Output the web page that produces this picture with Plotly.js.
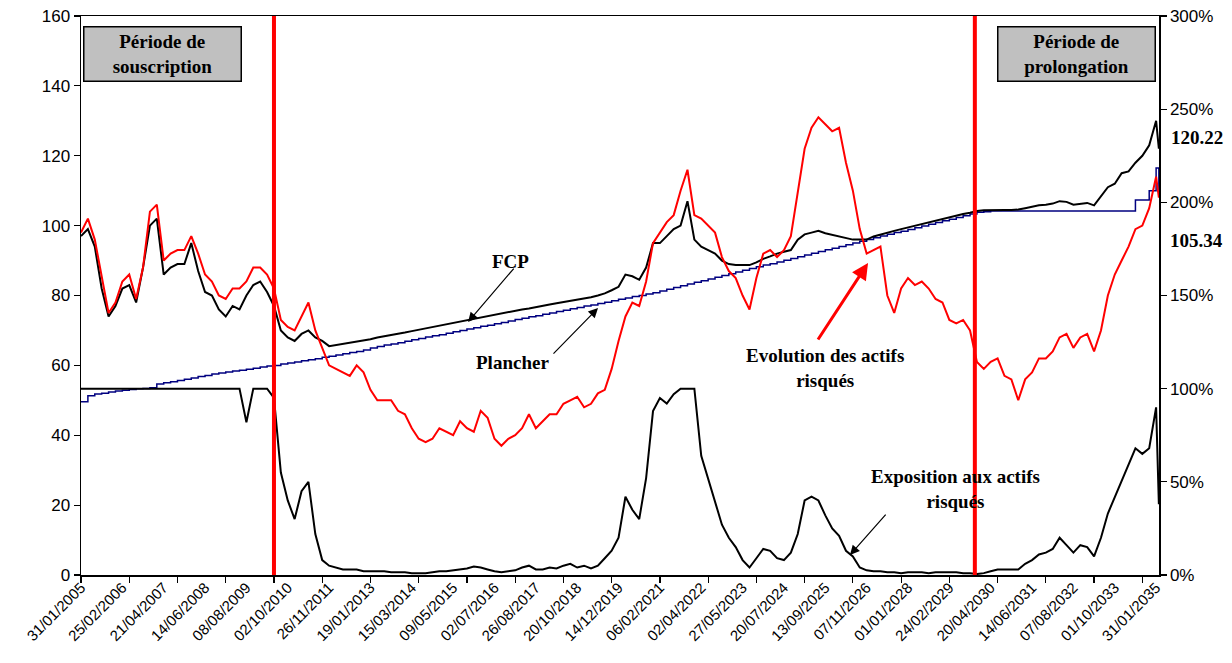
<!DOCTYPE html>
<html>
<head>
<meta charset="utf-8">
<script src="https://cdn.plot.ly/plotly-3.0.1.min.js"></script>
<style>html,body{margin:0;padding:0;background:#fff;}#chart{width:1232px;height:663px;}</style>
</head>
<body>
<div id="chart"></div>
<script>
// Category axis: labels every 300 observations, tick marks every 350 observations
const tickDates = ['31/01/2005','25/02/2006','21/04/2007','14/06/2008','08/08/2009','02/10/2010','26/11/2011','19/01/2013','15/03/2014','09/05/2015','02/07/2016','26/08/2017','20/10/2018','14/12/2019','06/02/2021','02/04/2022','27/05/2023','20/07/2024','13/09/2025','07/11/2026','01/01/2028','24/02/2029','20/04/2030','14/06/2031','07/08/2032','01/10/2033','31/01/2035'];
const labelEvery = 300;
const tickEvery = 350;
const lastObs = 7821;
const sampleStep = 50;
const finalObs = 7820;
const periodBounds = [1400, 6485]; // souscription end / prolongation start (observation index)

// Evolution des actifs risqués (left axis)
const risky = [98,102,96,85,75,78,84,86,79,88,104,106,90,92,93,93,97,92,86,84,80,79,82,82,84,88,88,86,82,73,71,70,74,78,70,65,60,59,58,57,60,58,
  53,50,50,50,47,46,42,39,38,39,42,41,40,44,42,41,47,45,39,37,39,40,42,46,42,44,46,46,49,50,51,48,49,52,53,59,67,74,78,77,84,
  95,98,101,103,110,116,103,102,100,98,91,87,85,80,76,85,92,93,91,93,97,110,122,128,131,129,127,128,118,110,99,92,93,94,80,75,82,85,83,84,82,
  79,78,73,72,73,70,61,59,61,62,57,56,50,56,58,62,62,64,68,69,65,68,69,64,70,80,86,90,94,99,100,105,114,
  108];
// FCP (left axis)
const fcp = [97,99,94,82,74,77,82,83,78,88,100,102,86,88,89,89,95,87,81,80,76,74,77,76,80,83,84,81,77,70,68,67,69,70,68,67,65.5,65.8,66.2,66.5,66.9,67.2,
  67.5,68,68.3,68.7,69,69.4,69.8,70.2,70.6,71,71.4,71.8,72.2,72.5,72.9,73.3,73.7,74.1,74.4,74.8,75.2,75.6,76,76.3,76.6,77,77.4,77.8,78.1,78.4,78.8,79.2,79.5,80,80.6,81.5,82.5,86,85.5,84.5,88,
  95,95,97,99,100,107,96,94,93,92,90,89,88.7,88.7,88.7,89.5,90.5,91.2,92,92.5,93,96,97.5,98,98.5,97.8,97.3,97,96.5,96,96,96,96.9,97.5,98,98.5,99,99.5,100,100.5,100.8,
  101.3,101.8,102.3,102.8,103.3,103.7,104.2,104.4,104.5,104.5,104.5,104.5,104.6,105,105.5,105.8,106,106.3,107,106.8,106,106.3,106.5,105.8,108.5,111,112,115,115.5,118,120,123,130,
  122];
// Plancher (left axis)
const plancher = [49.6,51.3,51.8,52.0,52.4,52.7,52.9,53.1,53.3,53.4,53.6,54.7,55.0,55.3,55.7,56.0,56.4,56.8,57.1,57.5,57.8,58.1,58.4,58.6,58.9,59.2,59.5,59.8,60.0,60.4,60.7,61.0,61.3,61.6,61.9,62.3,62.6,63.0,63.3,63.7,64.0,64.4,
  65.0,65.4,65.8,66.1,66.5,66.9,67.3,67.7,68.1,68.5,68.8,69.2,69.6,70.0,70.4,70.8,71.2,71.5,71.9,72.3,72.7,73.1,73.5,73.9,74.2,74.6,75.0,75.4,75.8,76.2,76.6,77.0,77.3,77.7,78.1,78.5,78.9,79.3,79.7,80.0,80.4,
  80.8,81.3,81.8,82.3,82.8,83.3,83.8,84.2,84.7,85.2,85.7,86.2,86.7,87.2,87.7,88.2,88.7,89.1,89.6,90.1,90.6,91.1,91.6,92.1,92.6,93.1,93.5,94.0,94.5,95.0,95.5,96.0,96.5,97.0,97.5,98.0,98.4,98.9,99.4,99.9,100.4,
  100.9,101.4,101.8,102.3,102.8,103.3,103.8,104.0,104.2,104.2,104.2,104.2,104.2,104.2,104.2,104.2,104.2,104.2,104.2,104.2,104.2,104.2,104.2,104.2,104.2,104.2,104.2,104.2,104.2,107.3,107.3,110,116.5,
  110];
// Exposition aux actifs risqués (right axis, %)
const exposition = [100,100,100,100,100,100,100,100,100,100,100,100,100,100,100,100,100,100,100,100,100,100,100,100,82,100,100,100,95,55,40,30,45,50,22,8,5,4,3,3,3,2,
  2,2,2,1.5,1.5,1.5,1,1,1,1.5,2,2,2.5,3,3.5,4.5,4,3,2,1.5,2,2.5,4,5,3,3,4,3.5,5,6,4,5,3.5,5,9,13,20,42,35,30,52,
  88,95,92,97,100,100,100,64,52,40,27,20,15,8,4,9,14,13,9,8,12,22,40,42,40,32,25,21,13,10,4,2.5,2,2,1.5,1.5,1,1.5,1.5,1.5,1,
  1.5,1.5,1.5,1.5,1,1,0.5,1,2,3,3,3,3,6,8,11,12,14,20,16,12,16,15,10,20,33,42,50,60,68,65,68,90,
  38];

const obs = risky.map((_, i) => i < risky.length - 1 ? i * sampleStep : finalObs);
const labelPos = tickDates.map((_, i) => i * labelEvery);
const tickPos = [];
for (let v = 0; v <= lastObs; v += tickEvery) tickPos.push(v);

const serif = 'Liberation Serif, Times New Roman, serif';
const sans = 'Liberation Sans, Arial, sans-serif';
const noteFont = {family: serif, size: 19, color: '#000'};

const traces = [
  {x: obs, y: exposition, yaxis: 'y2', type: 'scatter', mode: 'lines', line: {color: '#000', width: 2}, hoverinfo: 'skip', name: 'Exposition'},
  {x: obs, y: plancher, type: 'scatter', mode: 'lines', line: {color: '#000080', width: 1.5, shape: 'hv'}, hoverinfo: 'skip', name: 'Plancher'},
  {x: obs, y: fcp, type: 'scatter', mode: 'lines', line: {color: '#000', width: 2}, hoverinfo: 'skip', name: 'FCP'},
  {x: obs, y: risky, type: 'scatter', mode: 'lines', line: {color: '#ff0000', width: 2}, hoverinfo: 'skip', name: 'Actifs risqués'},
  {x: [], y: [], xaxis: 'x2', type: 'scatter', mode: 'lines', hoverinfo: 'skip', showlegend: false}
];

const boxStyle = {bgcolor: '#c0c0c0', bordercolor: '#000', borderwidth: 1.5, borderpad: 1, width: 154, height: 51, showarrow: false, xanchor: 'center', yanchor: 'middle', align: 'center', font: noteFont};

const annotations = [
  Object.assign({x: 588, y: 149.1, xref: 'x', yref: 'y', text: '<b>Période de<br>souscription</b>'}, boxStyle),
  Object.assign({x: 7226, y: 149.1, xref: 'x', yref: 'y', text: '<b>Période de<br>prolongation</b>'}, boxStyle),
  {x: 3113, y: 89.6, xref: 'x', yref: 'y', text: '<b>FCP</b>', showarrow: false, xanchor: 'center', yanchor: 'middle', font: noteFont},
  {x: 3134, y: 60.7, xref: 'x', yref: 'y', text: '<b>Plancher</b>', showarrow: false, xanchor: 'center', yanchor: 'middle', font: noteFont},
  {x: 5398, y: 59.2, xref: 'x', yref: 'y', text: '<b>Evolution des actifs<br>risqués</b>', showarrow: false, xanchor: 'center', yanchor: 'middle', font: noteFont},
  {x: 6341, y: 24.5, xref: 'x', yref: 'y', text: '<b>Exposition aux actifs<br>risqués</b>', showarrow: false, xanchor: 'center', yanchor: 'middle', font: noteFont},
  {x: 1.035, y: 0.782, xref: 'paper', yref: 'paper', text: '<b>120.22</b>', showarrow: false, xanchor: 'center', yanchor: 'middle', font: noteFont},
  {x: 1.035, y: 0.599, xref: 'paper', yref: 'paper', text: '<b>105.34</b>', showarrow: false, xanchor: 'center', yanchor: 'middle', font: noteFont},
  // arrows
  {x: 2808, y: 72.4, xref: 'x', yref: 'y', text: '', showarrow: true, ax: 47, ay: -55, arrowhead: 2, arrowsize: 1.6, arrowwidth: 1.2, arrowcolor: '#000'},
  {x: 3751, y: 76.4, xref: 'x', yref: 'y', text: '', showarrow: true, ax: -46, ay: 47, arrowhead: 2, arrowsize: 1.6, arrowwidth: 1.2, arrowcolor: '#000'},
  {x: 5710, y: 89.3, xref: 'x', yref: 'y', text: '', showarrow: true, ax: -51, ay: 78, arrowhead: 2, arrowsize: 1.1, arrowwidth: 3, arrowcolor: '#ff0000'},
  {x: 5579, y: 10.7, xref: 'x', yref: 'y2', text: '', showarrow: true, ax: 37, ay: -42, arrowhead: 2, arrowsize: 1.6, arrowwidth: 1.2, arrowcolor: '#000'}
];

const shapes = periodBounds.map(b => ({type: 'line', xref: 'x', yref: 'paper', x0: b, x1: b, y0: 0, y1: 1, line: {color: '#ff0000', width: 4}, layer: 'above'}));

const layout = {
  width: 1232, height: 663,
  margin: {l: 81, r: 73, t: 16, b: 88},
  paper_bgcolor: '#fff', plot_bgcolor: '#fff',
  showlegend: false,
  font: {family: sans, size: 17, color: '#000'},
  xaxis: {range: [0, lastObs], tickmode: 'array', tickvals: tickPos, ticks: 'outside', ticklen: 6, tickwidth: 1.2, tickcolor: '#000', showticklabels: false, showgrid: false, zeroline: false, showline: true, mirror: true, linecolor: '#000', linewidth: 1.5},
  xaxis2: {overlaying: 'x', side: 'bottom', range: [0, lastObs], tickmode: 'array', tickvals: labelPos, ticktext: tickDates, ticks: '', tickangle: -45, showline: false, showgrid: false, zeroline: false, tickfont: {family: sans, size: 15, color: '#000'}},
  yaxis: {range: [0, 160], tickmode: 'linear', tick0: 0, dtick: 20, ticks: 'outside', ticklen: 6, tickwidth: 1.2, tickcolor: '#000', showline: true, linecolor: '#000', linewidth: 1.5, showgrid: false, zeroline: false, tickfont: {family: sans, size: 17, color: '#000'}},
  yaxis2: {overlaying: 'y', side: 'right', range: [0, 300], tickmode: 'linear', tick0: 0, dtick: 50, ticksuffix: '%', ticks: 'outside', ticklen: 6, tickwidth: 1.2, tickcolor: '#000', showline: true, linecolor: '#000', linewidth: 1.5, showgrid: false, zeroline: false, tickfont: {family: sans, size: 17, color: '#000'}},
  annotations: annotations,
  shapes: shapes
};

Plotly.newPlot('chart', traces, layout, {displayModeBar: false, staticPlot: true});
</script>
</body>
</html>
